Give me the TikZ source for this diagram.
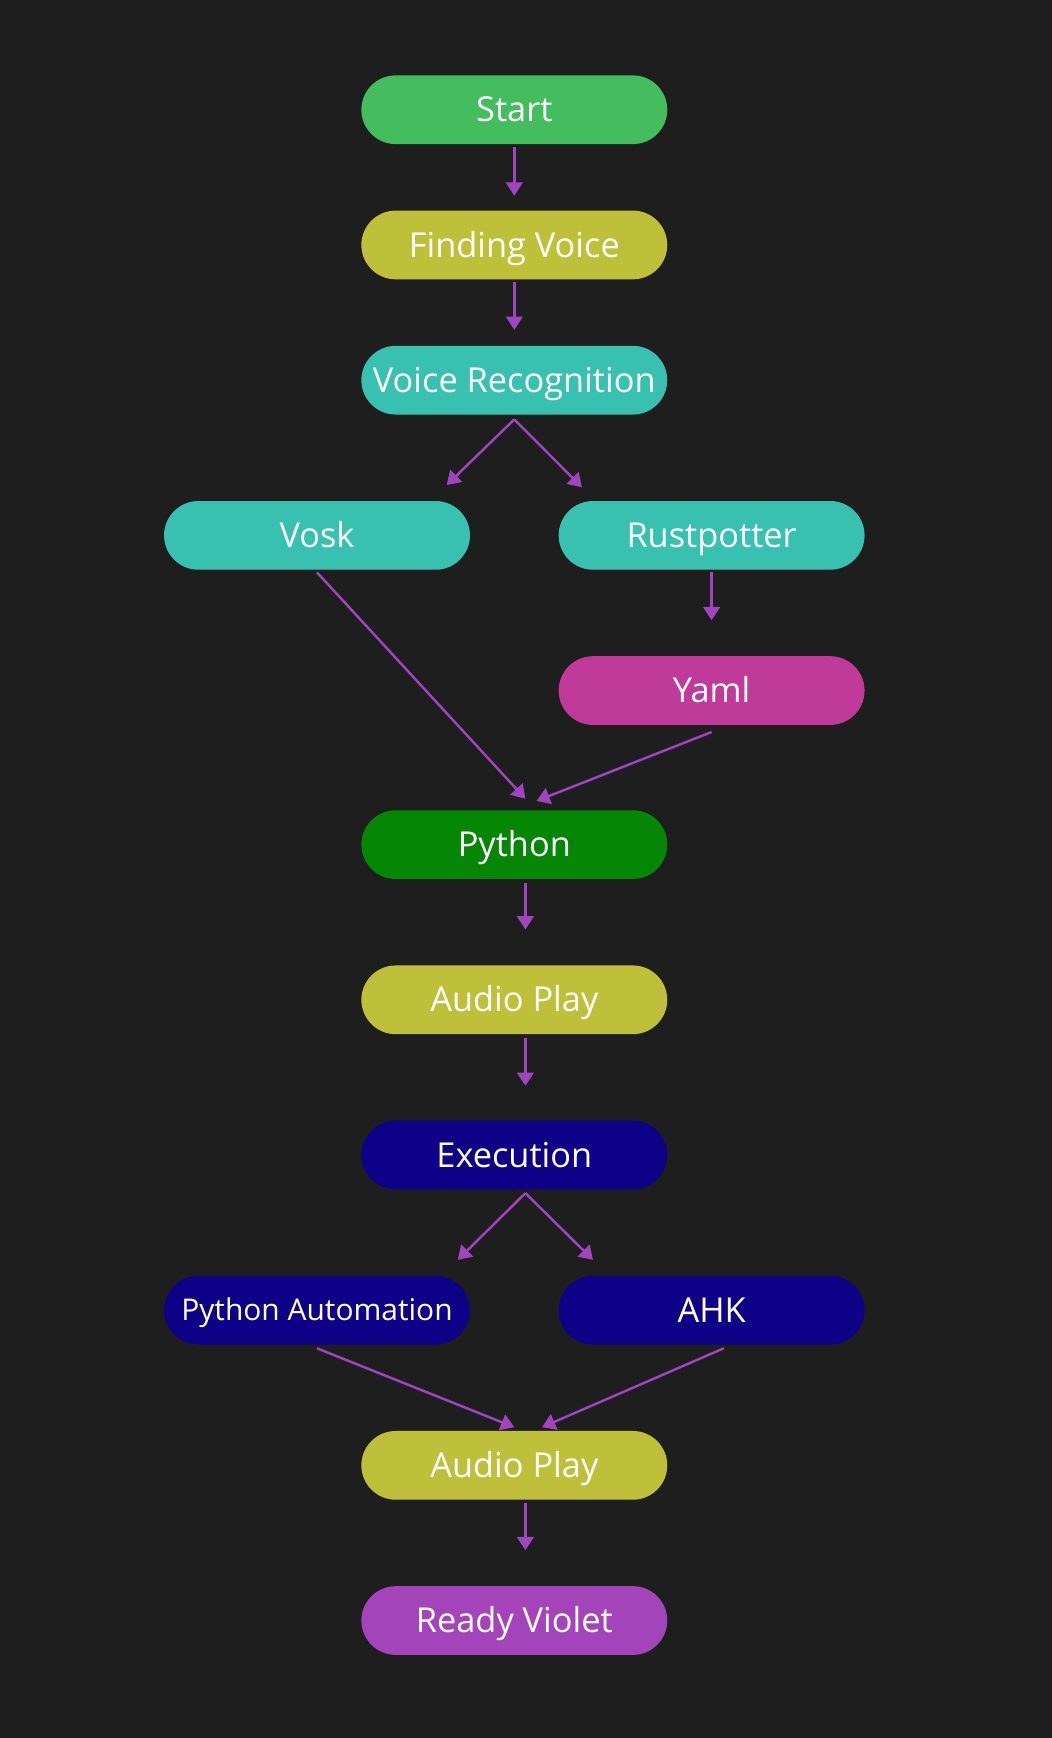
\documentclass[tikz,border=0pt]{standalone}
\usepackage{fontspec}
\setmainfont{Open Sans}
\usetikzlibrary{arrows.meta}
\definecolor{bg}{HTML}{1E1E1E}
\definecolor{cstart}{HTML}{44BD5E}
\definecolor{colive}{HTML}{BFC03A}
\definecolor{cteal}{HTML}{38C1B1}
\definecolor{cyaml}{HTML}{C03A9A}
\definecolor{cpy}{HTML}{058705}
\definecolor{cnavy}{HTML}{0E0087}
\definecolor{cviolet}{HTML}{A444BA}
\definecolor{carrow}{HTML}{A044C0}
\begin{document}
\begin{tikzpicture}[x=0.5pt,y=-0.5pt,
  box/.style={rounded corners=15.5pt, minimum width=138pt, minimum height=31pt, inner sep=0pt, text=white, text height=11pt, text depth=0pt, font=\fontsize{15.5}{18}\selectfont},
  link/.style={draw=carrow, line width=1.1pt, -{Triangle[length=6pt,width=7.5pt]}}]
\fill[bg] (0,0) rectangle (949,1568);
\useasboundingbox (0,0) rectangle (949,1568);
\node[box, fill=cstart] (start) at (464,99) {Start};
\node[box, fill=colive] (find) at (464,221) {Finding Voice};
\node[box, fill=cteal] (vr) at (464,343) {Voice Recognition};
\node[box, fill=cteal] (vosk) at (286,483) {Vosk};
\node[box, fill=cteal] (rust) at (642,483) {Rustpotter};
\node[box, fill=cyaml] (yaml) at (642,623) {Yaml};
\node[box, fill=cpy] (py) at (464,762) {Python};
\node[box, fill=colive] (audio) at (464,902) {Audio Play};
\node[box, fill=cnavy] (exec) at (464,1042) {Execution};
\node[box, fill=cnavy, text height=9.6pt, font=\fontsize{13.5}{16}\selectfont] (pa) at (286,1182) {Python Automation};
\node[box, fill=cnavy] (ahk) at (642,1182) {AHK};
\node[box, fill=colive] (audiob) at (464,1322) {Audio Play};
\node[box, fill=cviolet] (ready) at (464,1462) {Ready Violet};

\draw[link] ([yshift=-1pt]start.south) -- ([yshift=6.5pt]find.north);
\draw[link] ([yshift=-1pt]find.south) -- ([yshift=7pt]vr.north);
\draw[link] ([yshift=-2pt]vr.south) -- ([xshift=58.5pt,yshift=7pt]vosk.north);
\draw[link] ([yshift=-2pt]vr.south) -- ([xshift=-58.5pt,yshift=6pt]rust.north);
\draw[link] ([yshift=-1pt]rust.south) -- ([yshift=16pt]yaml.north);
\draw[link] ([yshift=-1pt]vosk.south) -- ([xshift=5pt,yshift=5pt]py.north);
\draw[link] ([yshift=-3pt]yaml.south) -- ([xshift=10pt,yshift=4pt]py.north);
\draw[link] ([xshift=5pt,yshift=-1.5pt]py.south) -- ([xshift=5pt,yshift=16pt]audio.north);
\draw[link] ([xshift=5pt,yshift=-1.5pt]audio.south) -- ([xshift=5pt,yshift=15.5pt]exec.north);
\draw[link] ([xshift=5pt,yshift=-1.5pt]exec.south) -- ([xshift=63.5pt,yshift=7pt]pa.north);
\draw[link] ([xshift=5pt,yshift=-1.5pt]exec.south) -- ([xshift=-53.5pt,yshift=7pt]ahk.north);
\draw[link] ([yshift=-1.5pt]pa.south) -- ([yshift=1.5pt]audiob.north);
\draw[link] ([xshift=5.5pt,yshift=-1.5pt]ahk.south) -- ([xshift=12.5pt,yshift=1.5pt]audiob.north);
\draw[link] ([xshift=5pt,yshift=-1.5pt]audiob.south) -- ([xshift=5pt,yshift=16pt]ready.north);
\end{tikzpicture}
\end{document}
